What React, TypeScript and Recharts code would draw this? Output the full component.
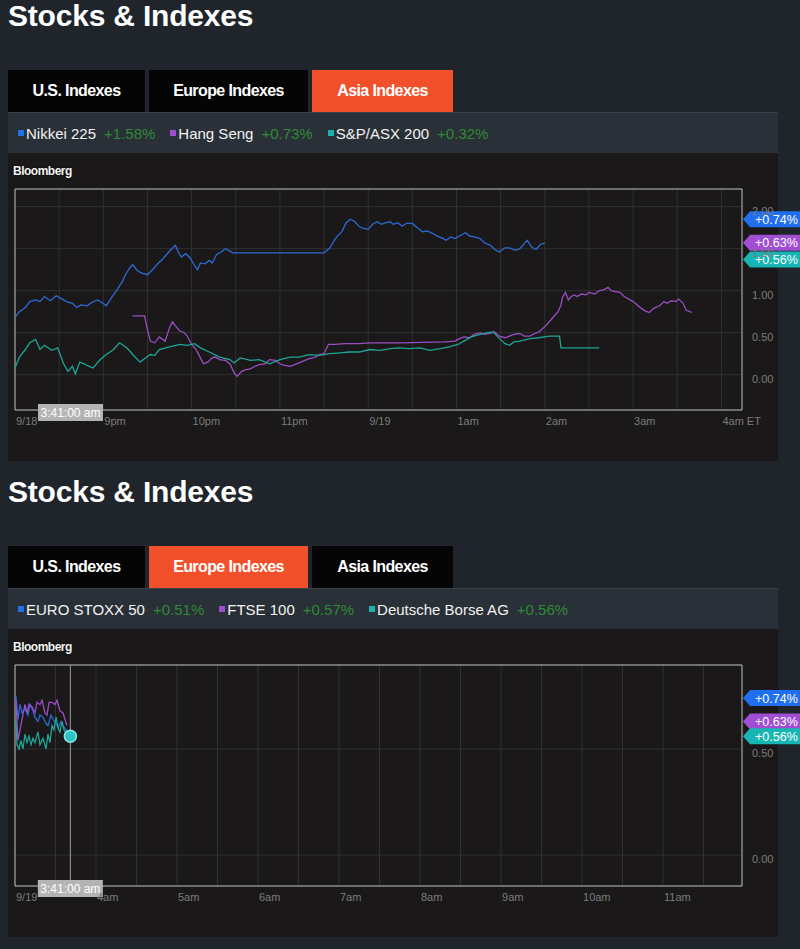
import React from "react";
import {
  LineChart,
  Line,
  XAxis,
  YAxis,
  CartesianGrid,
  ReferenceLine,
  ReferenceArea,
  ReferenceDot,
} from "recharts";

// [minutes from start of axis, % change]
type Pt = [number, number];

// Asia session, minutes after 8pm ET on 9/18
const nikkei225: Pt[] = [
  [0, 0.68], [3, 0.75], [7, 0.8], [10, 0.87], [14, 0.89], [17, 0.87], [20, 0.93], [24, 0.88],
  [28, 0.94], [32, 0.9], [35, 0.87], [39, 0.85], [42, 0.8], [45, 0.83], [49, 0.82], [52, 0.86],
  [56, 0.89], [59, 0.86], [62, 0.82], [66, 0.93], [69, 1.0], [73, 1.11], [75, 1.19], [78, 1.27],
  [80, 1.31], [83, 1.24], [86, 1.21], [90, 1.19], [94, 1.26], [97, 1.32], [100, 1.37], [103, 1.43],
  [106, 1.49], [109, 1.54], [111, 1.46], [113, 1.4], [116, 1.44], [119, 1.39], [122, 1.3], [124, 1.25],
  [126, 1.33], [129, 1.32], [132, 1.36], [134, 1.33], [137, 1.43], [140, 1.46], [143, 1.5], [145, 1.48],
  [148, 1.45], [151, 1.45], [210, 1.45], [214, 1.51], [217, 1.6], [219, 1.65], [222, 1.7], [225, 1.81],
  [228, 1.85], [231, 1.82], [234, 1.76], [237, 1.74], [240, 1.73], [243, 1.79], [246, 1.82], [249, 1.79],
  [252, 1.81], [255, 1.82], [257, 1.79], [260, 1.81], [263, 1.77], [266, 1.8], [270, 1.8], [274, 1.74],
  [277, 1.7], [280, 1.71], [284, 1.68], [287, 1.65], [291, 1.62], [293, 1.6], [296, 1.64], [299, 1.62],
  [302, 1.65], [306, 1.69], [309, 1.65], [312, 1.64], [316, 1.62], [319, 1.57], [323, 1.54], [326, 1.49],
  [329, 1.46], [333, 1.51], [336, 1.51], [340, 1.48], [343, 1.5], [346, 1.56], [348, 1.6], [351, 1.52],
  [354, 1.49], [357, 1.55], [360, 1.57],
];

const hangSeng: Pt[] = [
  [80, 0.7], [88, 0.7], [90, 0.54], [92, 0.4], [95, 0.38], [98, 0.45], [102, 0.4], [105, 0.56],
  [107, 0.63], [109, 0.58], [112, 0.52], [115, 0.5], [117, 0.46], [120, 0.36], [123, 0.3], [126, 0.2],
  [128, 0.13], [131, 0.15], [134, 0.2], [136, 0.21], [139, 0.18], [143, 0.17], [146, 0.13], [149, 0.02],
  [151, -0.02], [154, 0.04], [157, 0.06], [160, 0.07], [163, 0.1], [166, 0.12], [170, 0.13], [173, 0.18],
  [177, 0.17], [180, 0.13], [183, 0.11], [187, 0.1], [190, 0.12], [193, 0.14], [197, 0.17], [200, 0.19],
  [204, 0.21], [207, 0.24], [210, 0.25], [213, 0.36], [217, 0.36], [224, 0.37], [234, 0.37], [241, 0.38],
  [261, 0.38], [292, 0.39], [299, 0.4], [302, 0.43], [305, 0.45], [309, 0.44], [312, 0.48], [316, 0.5],
  [319, 0.48], [322, 0.49], [326, 0.51], [329, 0.46], [333, 0.44], [336, 0.46], [339, 0.48], [343, 0.49],
  [346, 0.46], [350, 0.46], [353, 0.49], [356, 0.51], [360, 0.57], [363, 0.63], [366, 0.69], [369, 0.75],
  [371, 0.83], [372, 0.92], [374, 0.98], [376, 0.89], [378, 0.93], [380, 0.95], [382, 0.93], [385, 0.96],
  [388, 0.95], [390, 0.98], [394, 0.96], [397, 1.0], [400, 1.01], [403, 1.04], [405, 1.0], [408, 0.99],
  [411, 0.98], [414, 0.93], [418, 0.89], [421, 0.86], [424, 0.81], [428, 0.76], [431, 0.74], [434, 0.79],
  [438, 0.82], [441, 0.87], [443, 0.85], [446, 0.88], [449, 0.87], [451, 0.9], [454, 0.85], [456, 0.77],
  [460, 0.74],
];

const spAsx200: Pt[] = [
  [0, 0.08], [3, 0.21], [7, 0.3], [10, 0.38], [14, 0.42], [17, 0.3], [20, 0.35], [25, 0.29],
  [29, 0.32], [33, 0.13], [36, 0.04], [39, 0.1], [41, 0.01], [44, 0.15], [47, 0.13], [49, 0.11],
  [53, 0.08], [58, 0.18], [62, 0.24], [67, 0.3], [71, 0.38], [76, 0.32], [80, 0.24], [85, 0.15],
  [88, 0.19], [92, 0.24], [95, 0.23], [98, 0.3], [105, 0.33], [112, 0.36], [117, 0.35], [122, 0.37],
  [126, 0.32], [132, 0.27], [139, 0.21], [146, 0.18], [149, 0.14], [153, 0.2], [160, 0.17], [166, 0.18],
  [173, 0.13], [180, 0.18], [187, 0.21], [193, 0.21], [200, 0.24], [207, 0.23], [214, 0.25], [221, 0.26],
  [227, 0.27], [234, 0.27], [241, 0.3], [248, 0.29], [255, 0.31], [261, 0.32], [268, 0.31], [275, 0.32],
  [282, 0.29], [289, 0.31], [295, 0.33], [301, 0.36], [305, 0.4], [310, 0.45], [316, 0.48], [321, 0.5],
  [325, 0.51], [328, 0.45], [333, 0.37], [336, 0.35], [339, 0.39], [343, 0.4], [350, 0.43], [356, 0.44],
  [363, 0.46], [370, 0.46], [371, 0.32], [397, 0.32],
];

// Europe session, minutes after 3am ET on 9/19
const euroStoxx50: Pt[] = [
  [0.7, 0.75], [2.2, 0.64], [3.7, 0.71], [5.2, 0.67], [7.4, 0.69], [9.6, 0.66], [11.1, 0.71], [13.3, 0.68],
  [14.8, 0.65], [17, 0.63], [18.5, 0.66], [20.7, 0.65], [23, 0.62], [24.4, 0.61], [26.7, 0.66], [28.1, 0.64],
  [30.4, 0.62], [31.9, 0.6], [34.1, 0.63], [35.6, 0.61], [37.8, 0.59], [39.3, 0.57],
];

const ftse100: Pt[] = [
  [0.7, 0.73], [2.2, 0.54], [3.7, 0.59], [5.2, 0.64], [7.4, 0.71], [8.9, 0.67], [10.4, 0.71], [12.6, 0.7],
  [14.8, 0.67], [16.3, 0.72], [18.5, 0.71], [20, 0.73], [22.2, 0.67], [23.7, 0.66], [25.2, 0.72], [27.4, 0.72],
  [29.6, 0.71], [31.1, 0.73], [33.3, 0.68], [35.6, 0.67], [37, 0.64], [38.5, 0.61],
];

const deutscheBorse: Pt[] = [
  [0.7, 0.64], [1.5, 0.52], [3, 0.5], [4.4, 0.54], [5.9, 0.5], [7.4, 0.57], [8.9, 0.53], [10.4, 0.56],
  [11.9, 0.52], [13.3, 0.55], [14.8, 0.53], [17, 0.58], [18.5, 0.52], [20.7, 0.55], [23, 0.5], [24.4, 0.57],
  [25.9, 0.53], [27.4, 0.61], [28.9, 0.59], [30.4, 0.65], [31.9, 0.6], [33.3, 0.58], [34.8, 0.63], [36.3, 0.59],
  [37.8, 0.57], [40, 0.56], [41, 0.56],
];

const asiaTimeTicks = [0, 30, 60, 90, 120, 150, 180, 210, 240, 270, 300, 330, 360, 390, 420, 450, 480];
const asiaTimeLabels: Record<number, string> = {
  0: "9/18", 60: "9pm", 120: "10pm", 180: "11pm", 240: "9/19", 300: "1am", 360: "2am", 420: "3am", 480: "4am ET",
};
const europeTimeTicks = [0, 30, 60, 90, 120, 150, 180, 210, 240, 270, 300, 330, 360, 390, 420, 450, 480, 510];
const europeTimeLabels: Record<number, string> = {
  0: "9/19", 60: "4am", 120: "5am", 180: "6am", 240: "7am", 300: "8am", 360: "9am", 420: "10am", 480: "11am",
};

const asiaValueTicks = [0, 0.5, 1, 1.5, 2];
const europeValueTicks = [0, 0.5];

const tabNames = ["U.S. Indexes", "Europe Indexes", "Asia Indexes"];

const asiaLegend = [
  { name: "Nikkei 225", change: "+1.58%" },
  { name: "Hang Seng", change: "+0.73%" },
  { name: "S&P/ASX 200", change: "+0.32%" },
];
const europeLegend = [
  { name: "EURO STOXX 50", change: "+0.51%" },
  { name: "FTSE 100", change: "+0.57%" },
  { name: "Deutsche Borse AG", change: "+0.56%" },
];

const badgeTexts = ["+0.74%", "+0.63%", "+0.56%"];
const europeBadgeLevels = [0.74, 0.63, 0.56];
const asiaBadgeLevels = [1.85, 1.57, 1.37]; // stale badges left over on the Asia view

const FONT = '"Liberation Sans", Arial, Helvetica, sans-serif';
const PAGE_BG = "#1f252b";
const BAR_BG = "#2a3037";
const PANEL_BG = "#1a1818";
const ORANGE = "#f2502a";
const GREEN = "#2e8a36";
const GRID = "#313131";
const AXIS_TEXT = "#7c7c7c";

const LINE_COLORS = ["#2c6bd6", "#9a4ec6", "#1ea596"];
const BADGE_COLORS = ["#1f6ff0", "#a04fd4", "#17b5b3"];
const KEY_COLORS = ["#2070e8", "#9d4fd0", "#1cb0b0"];

const toRows = (pts: Pt[]) => pts.map(([t, v]) => ({ t, v }));

function Badge({ viewBox, text, color }: any) {
  const left = viewBox.x + viewBox.width + 1;
  const y = viewBox.y;
  return (
    <g>
      <path
        d={`M${left},${y} L${left + 7},${y - 8} L${left + 70},${y - 8} L${left + 70},${y + 8} L${left + 7},${y + 8} Z`}
        fill={color}
      />
      <text x={left + 12} y={y + 4.5} fill="#fff" fontSize={12.5} fontFamily={FONT}>
        {text}
      </text>
    </g>
  );
}

function TimeBox({ viewBox }: any) {
  const cx = viewBox.x;
  const bottom = viewBox.y + viewBox.height;
  return (
    <g>
      <rect x={cx - 32.5} y={bottom - 6} width={65} height={17} fill="#b4b4b4" />
      <text x={cx} y={bottom + 7} fill="#fff" fontSize={12} textAnchor="middle" fontFamily={FONT}>
        3:41:00 am
      </text>
    </g>
  );
}

interface ChartProps {
  series: Pt[][];
  xDomain: [number, number];
  yDomain: [number, number];
  xTicks: number[];
  xLabels: Record<number, string>;
  yTicks: number[];
  badgeLevels: number[];
  cursorT: number;
  showCursor: boolean;
  topPad: number;
}

function IndexChart({ series, xDomain, yDomain, xTicks, xLabels, yTicks, badgeLevels, cursorT, showCursor, topPad }: ChartProps) {
  return (
    <LineChart width={792} height={308} margin={{ top: topPad, right: 0, left: 7, bottom: 0 }}>
      <CartesianGrid stroke={GRID} strokeWidth={1} />
      <XAxis
        dataKey="t"
        type="number"
        domain={xDomain}
        ticks={xTicks}
        allowDataOverflow
        height={308 - topPad - 221}
        axisLine={false}
        tickLine={false}
        tickSize={0}
        tickMargin={0}
        interval={0}
        tick={({ x, y, payload }: any) => (
          <text x={x + 1} y={y + 15} fill={AXIS_TEXT} fontSize={11} fontFamily={FONT}>
            {xLabels[payload.value] ?? ""}
          </text>
        )}
      />
      <YAxis
        orientation="right"
        type="number"
        domain={yDomain}
        ticks={yTicks}
        allowDataOverflow
        width={58}
        axisLine={false}
        tickLine={false}
        tickSize={0}
        tickMargin={0}
        interval={0}
        tick={({ x, y, payload }: any) => (
          <text x={x + 10} y={y + 8} fill={AXIS_TEXT} fontSize={11} fontFamily={FONT}>
            {payload.value.toFixed(2)}
          </text>
        )}
      />
      <ReferenceArea x1={xDomain[0]} x2={xDomain[1]} y1={yDomain[0]} y2={yDomain[1]} fill="none" stroke="#b9b9b9" strokeWidth={1} />
      {series.map((pts, i) => (
        <Line
          key={i}
          data={toRows(pts)}
          dataKey="v"
          type="linear"
          stroke={LINE_COLORS[i]}
          strokeWidth={1.3}
          dot={false}
          isAnimationActive={false}
        />
      ))}
      <ReferenceLine
        x={cursorT}
        stroke={showCursor ? "#9a9a9a" : "none"}
        strokeWidth={1}
        label={(p: any) => <TimeBox viewBox={p.viewBox} />}
      />
      {showCursor && (
        <ReferenceDot x={cursorT} y={0.56} r={6} fill="#2cc3c3" stroke="#8fe6e6" strokeWidth={1.5} />
      )}
      {badgeLevels.map((lvl, i) => (
        <ReferenceLine
          key={i}
          y={lvl}
          stroke="none"
          label={(p: any) => <Badge viewBox={p.viewBox} text={badgeTexts[i]} color={BADGE_COLORS[i]} />}
        />
      ))}
    </LineChart>
  );
}

function Widget({ top, activeTab, legend, children }: { top: number; activeTab: number; legend: { name: string; change: string }[]; children: React.ReactNode }) {
  const tabX = [
    [8, 137],
    [149, 159],
    [312, 141],
  ];
  return (
    <>
      <div
        style={{
          position: "absolute", left: 8, top: top + 1, fontSize: 30, lineHeight: "29px",
          fontWeight: 700, color: "#fff", letterSpacing: -0.2,
        }}
      >
        Stocks &amp; Indexes
      </div>
      {tabNames.map((name, i) => (
        <div
          key={name}
          style={{
            position: "absolute", left: tabX[i][0], top: top + 70, width: tabX[i][1], height: 42,
            background: i === activeTab ? ORANGE : "#050505", color: "#fff", fontWeight: 700,
            fontSize: 16, letterSpacing: -0.6, display: "flex", alignItems: "center", justifyContent: "center",
          }}
        >
          {name}
        </div>
      ))}
      <div
        style={{
          position: "absolute", left: 8, top: top + 112, width: 770, height: 41, background: BAR_BG,
          borderTop: "1px solid #3a4048", boxSizing: "border-box", display: "flex", alignItems: "center",
          paddingLeft: 10, fontSize: 15,
        }}
      >
        {legend.map((item, i) => (
          <span key={item.name} style={{ display: "flex", alignItems: "center", marginRight: 15 }}>
            <span style={{ width: 6, height: 6, background: KEY_COLORS[i], marginRight: 2 }} />
            <span style={{ color: "#f2f2f2" }}>{item.name}</span>
            <span style={{ color: GREEN, marginLeft: 8 }}>{item.change}</span>
          </span>
        ))}
      </div>
      <div style={{ position: "absolute", left: 8, top: top + 153, width: 770, height: 308, background: PANEL_BG }} />
      <div
        style={{
          position: "absolute", left: 13, top: top + 164, fontSize: 12, fontWeight: 700, color: "#f4f4f4",
          letterSpacing: -0.5, textShadow: "0 0 2px #000",
        }}
      >
        Bloomberg
      </div>
      <div style={{ position: "absolute", left: 8, top: top + 153 }}>{children}</div>
    </>
  );
}

export default function App() {
  return (
    <div
      style={{
        position: "absolute", left: 0, top: 0, width: 800, height: 949, background: PAGE_BG,
        overflow: "hidden", fontFamily: FONT,
      }}
    >
      <Widget top={0} activeTab={2} legend={asiaLegend}>
        <IndexChart
          series={[nikkei225, hangSeng, spAsx200]}
          xDomain={[0, 494]}
          yDomain={[-0.42, 2.21]}
          xTicks={asiaTimeTicks}
          xLabels={asiaTimeLabels}
          yTicks={asiaValueTicks}
          badgeLevels={asiaBadgeLevels}
          cursorT={37.7}
          showCursor={false}
          topPad={36}
        />
      </Widget>
      <Widget top={476} activeTab={1} legend={europeLegend}>
        <IndexChart
          series={[euroStoxx50, ftse100, deutscheBorse]}
          xDomain={[0, 538.5]}
          yDomain={[-0.146, 0.896]}
          xTicks={europeTimeTicks}
          xLabels={europeTimeLabels}
          yTicks={europeValueTicks}
          badgeLevels={europeBadgeLevels}
          cursorT={41}
          showCursor
          topPad={36}
        />
      </Widget>
    </div>
  );
}
